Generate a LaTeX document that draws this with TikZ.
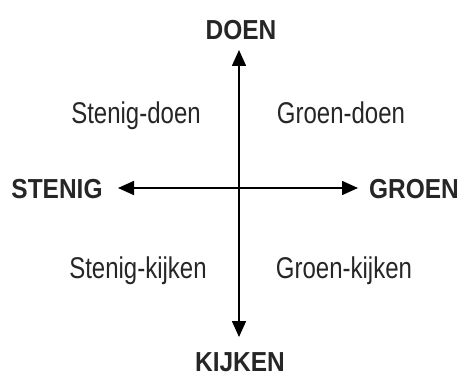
\documentclass[tikz,border=0pt]{standalone}
\usepackage{fontspec}
\setmainfont{Liberation Sans}[FakeStretch=0.8]
\newfontfamily\polefont{Liberation Sans}[FakeStretch=0.89]
\usepackage{xcolor}
\usepackage{tikz}
\usetikzlibrary{arrows.meta, positioning}
\definecolor{labelgray}{HTML}{262626}
\tikzset{
    pole/.style={
        anchor=base,
        inner sep=0pt,
        text=labelgray,
        font=\polefont\fontsize{27.5}{33}\selectfont\bfseries
    },
    quadrant/.style={
        anchor=base,
        inner sep=0pt,
        text=labelgray,
        font=\fontsize{30}{36}\selectfont
    },
    axis/.style={
        draw=black,
        line width=1.6pt,
        {Triangle[length=16pt,width=14pt]}-{Triangle[length=16pt,width=14pt]}
    }
}
\begin{document}
\begin{tikzpicture}[x=1pt, y=-1pt]
\useasboundingbox (0,0) rectangle (462,377);

% Axis ends
\coordinate (doenend) at (239,50);
\coordinate (kijkenend) at (239,337);
\coordinate (stenigend) at (118,188);
\coordinate (groenend) at (358,188);

% Axes
\draw[axis] (doenend) -- (kijkenend);
\draw[axis] (stenigend) -- (groenend);

% Poles
\node[pole] (doen) at (241,40) {DOEN};
\node[pole] (kijken) at (240,371) {KIJKEN};
\node[pole] (stenig) at (57,198) {STENIG};
\node[pole] (groen) at (414,198) {GROEN};

% Quadrants
\node[quadrant] (stenigdoen) at (136,123) {Stenig-doen};
\node[quadrant] (groendoen) at (341,123) {Groen-doen};
\node[quadrant] (stenigkijken) at (138,278) {Stenig-kijken};
\node[quadrant] (groenkijken) at (344,278) {Groen-kijken};

\end{tikzpicture}
\end{document}
